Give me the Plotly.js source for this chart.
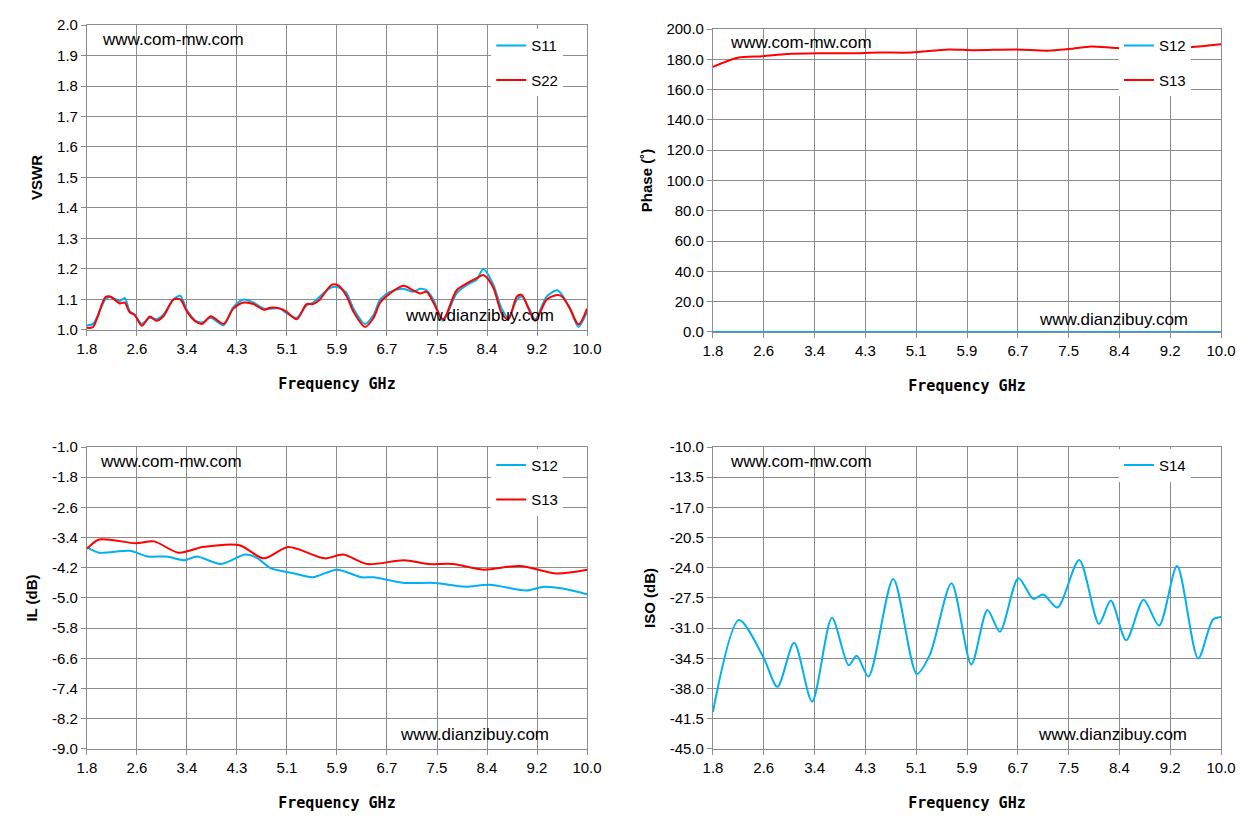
<!DOCTYPE html>
<html><head><meta charset="utf-8">
<script src="https://cdn.plot.ly/plotly-3.0.1.min.js"></script>
<style>body{margin:0;background:#fff}#container{width:1253px;height:839px}</style>
</head><body><div id="container"></div>
<script>
// frequency ticks (evenly spaced labels as in the source chart)
var tickLabels = ['1.8','2.6','3.4','4.3','5.1','5.9','6.7','7.5','8.4','9.2','10.0'];
var tickPos = [1.8, 2.62, 3.44, 4.26, 5.08, 5.9, 6.72, 7.54, 8.36, 9.18, 10.0];
var ilTicks = [-9.0,-8.2,-7.4,-6.6,-5.8,-5.0,-4.2,-3.4,-2.6,-1.8,-1.0];
var isoTicks = [-45.0,-41.5,-38.0,-34.5,-31.0,-27.5,-24.0,-20.5,-17.0,-13.5,-10.0];

// VSWR
var vswrFreq = [1.8,1.9,2.1,2.18,2.34,2.42,2.5,2.58,2.7,2.83,2.94,3.05,3.22,3.33,3.44,3.58,3.69,3.83,4.04,4.2,4.37,4.53,4.7,4.81,4.97,5.07,5.24,5.4,5.51,5.62,5.81,5.92,6.06,6.17,6.36,6.5,6.61,6.77,6.99,7.15,7.26,7.37,7.48,7.64,7.86,8.05,8.19,8.3,8.46,8.6,8.71,8.85,8.93,9.04,9.15,9.34,9.51,9.59,9.72,9.86,10.0];
var s11 = [1.015,1.02,1.10,1.108,1.095,1.105,1.062,1.05,1.02,1.04,1.035,1.05,1.10,1.112,1.065,1.03,1.025,1.04,1.015,1.075,1.10,1.09,1.07,1.07,1.07,1.055,1.04,1.08,1.09,1.11,1.14,1.14,1.12,1.07,1.02,1.05,1.10,1.125,1.135,1.125,1.135,1.13,1.10,1.03,1.12,1.15,1.165,1.20,1.15,1.07,1.04,1.10,1.11,1.075,1.035,1.11,1.13,1.115,1.07,1.01,1.06];
var s22 = [1.007,1.01,1.107,1.11,1.087,1.09,1.058,1.05,1.014,1.044,1.03,1.044,1.10,1.10,1.06,1.028,1.02,1.045,1.02,1.07,1.09,1.085,1.066,1.073,1.07,1.06,1.035,1.085,1.085,1.10,1.148,1.146,1.11,1.06,1.01,1.04,1.09,1.12,1.145,1.13,1.12,1.125,1.09,1.035,1.13,1.155,1.17,1.18,1.14,1.055,1.035,1.11,1.115,1.07,1.03,1.10,1.115,1.11,1.07,1.018,1.07];

// Phase
var phFreq = [1.8,2.2,2.6,3.0,3.5,4.0,4.5,5.0,5.6,6.0,6.7,7.2,7.6,7.9,8.3,8.8,9.5,10.0];
var phS12 = [0,0,0,0,0,0,0,0,0,0,0,0,0,0,0,0,0,0];
var phS13 = [175,181,182,183.5,184,184,184.5,184.5,186.5,186,186.5,185.7,187,188.5,187.5,187,188,190];

// Insertion loss
var ilFreq12 = [1.8,2.0,2.5,2.8,3.1,3.4,3.6,4.0,4.4,4.6,4.8,5.2,5.5,5.9,6.3,6.5,7.0,7.5,8.0,8.4,9.0,9.3,9.6,10.0];
var ilS12 = [-3.65,-3.8,-3.75,-3.9,-3.9,-4.0,-3.9,-4.1,-3.85,-3.95,-4.2,-4.35,-4.45,-4.25,-4.45,-4.45,-4.6,-4.6,-4.7,-4.65,-4.8,-4.7,-4.75,-4.9];
var ilFreq13 = [1.8,2.0,2.6,2.9,3.3,3.7,4.3,4.7,5.1,5.7,6.0,6.4,7.0,7.4,7.8,8.3,8.9,9.5,10.0];
var ilS13 = [-3.7,-3.45,-3.55,-3.5,-3.8,-3.65,-3.6,-3.95,-3.65,-3.95,-3.85,-4.1,-4.0,-4.1,-4.1,-4.25,-4.15,-4.35,-4.25];

// Isolation
var isoFreq = [1.8,2.22,2.61,2.84,3.11,3.4,3.72,3.99,4.12,4.31,4.71,5.09,5.3,5.65,5.97,6.23,6.43,6.73,6.97,7.13,7.36,7.71,8.03,8.22,8.47,8.75,9.0,9.29,9.63,9.87,10.0];
var isoS14 = [-40.7,-30.05,-34.3,-37.8,-32.7,-39.5,-29.8,-35.3,-34.2,-36.6,-25.3,-36.3,-34.1,-25.8,-35.2,-28.9,-31.4,-25.2,-27.6,-27.1,-28.6,-23.1,-30.5,-27.8,-32.4,-27.7,-30.7,-23.8,-34.5,-30.0,-29.7];

var BLUE = '#00b0f0', RED = '#ff0000';
var tf = {family: 'Liberation Sans, Arial', size: 15, color: '#000'};

function line(x, y, name, color, xa, ya, leg) {
  return {x: x, y: y, name: name, mode: 'lines', type: 'scatter', xaxis: xa, yaxis: ya,
    legend: leg, legendgroup: name + leg, line: {color: color, width: 2, shape: 'spline', smoothing: 0.8}};
}

var data = [
  line(vswrFreq, s11, 'S11', BLUE, 'x', 'y', 'legend'),
  line(vswrFreq, s22, 'S22', RED, 'x', 'y', 'legend'),
  line(phFreq, phS12, 'S12', BLUE, 'x2', 'y2', 'legend2'),
  line(phFreq, phS13, 'S13', RED, 'x2', 'y2', 'legend2'),
  line(ilFreq12, ilS12, 'S12', BLUE, 'x3', 'y3', 'legend3'),
  line(ilFreq13, ilS13, 'S13', RED, 'x3', 'y3', 'legend3'),
  line(isoFreq, isoS14, 'S14', BLUE, 'x4', 'y4', 'legend4')
];

function xax(dom, anchor) {
  return {domain: dom, anchor: anchor, range: [1.8, 10], tickvals: tickPos, ticktext: tickLabels,
    showgrid: true, gridcolor: '#8c8c8c', gridwidth: 1, zeroline: false, tickfont: tf,
    showline: true, linecolor: '#8c8c8c', ticks: 'outside', ticklen: 5, tickcolor: '#8c8c8c', mirror: true,
    title: {text: 'Frequency GHz', font: {family: 'DejaVu Sans Mono, Courier New', size: 15, color: '#000', weight: 'bold'}, standoff: 22}};
}
function yax(dom, anchor, r, dt, t, vals) {
  var a = {domain: dom, anchor: anchor, range: r, dtick: dt, tick0: r[0], tickformat: '.1f',
    showgrid: true, gridcolor: '#8c8c8c', zeroline: false, tickfont: tf,
    showline: true, linecolor: '#8c8c8c', ticks: 'outside', ticklen: 5, tickcolor: '#8c8c8c', mirror: true,
    title: {text: t, font: {family: 'Liberation Sans, Arial', size: 15, color: '#000', weight: 'bold'}, standoff: 10}};
  if (vals) {
    a.tickvals = vals;
    a.ticktext = vals.map(function(v) { return v.toFixed(1); });
  }
  return a;
}
function leg(x, y) {
  return {x: x, y: y, xanchor: 'left', yanchor: 'top', bgcolor: '#fff', borderwidth: 0,
    font: {family: 'Liberation Sans, Arial', size: 15, color: '#000'}, traceorder: 'grouped', tracegroupgap: 12};
}
function note(text, x, y) {
  return {text: text, x: x, y: y, xref: 'paper', yref: 'paper', xanchor: 'left', yanchor: 'middle',
    showarrow: false, font: {family: 'Liberation Sans, Arial', size: 17, color: '#000'}};
}

var yTop = [0.6067, 0.9702], yTopR = [0.6043, 0.9654], yBot = [0.1073, 0.4672];
var layout = {
  width: 1253, height: 839, margin: {l: 0, r: 0, t: 0, b: 0},
  paper_bgcolor: '#fff', plot_bgcolor: '#fff',
  xaxis: xax([0.0694, 0.4685], 'y'),
  yaxis: yax(yTop, 'x', [1.0, 2.0], 0.1, 'VSWR'),
  xaxis2: xax([0.569, 0.9745], 'y2'),
  yaxis2: yax(yTopR, 'x2', [0, 200], 20, 'Phase (˚)'),
  xaxis3: xax([0.0694, 0.4685], 'y3'),
  yaxis3: yax(yBot, 'x3', [-9, -1], 0.8, 'IL (dB)', ilTicks),
  xaxis4: xax([0.569, 0.9745], 'y4'),
  yaxis4: yax(yBot, 'x4', [-45, -10], 3.5, 'ISO (dB)', isoTicks),
  legend: leg(0.392, 0.965),
  legend2: leg(0.893, 0.965),
  legend3: leg(0.392, 0.465),
  legend4: leg(0.893, 0.465),
  annotations: [
    note('www.com-mw.com', 0.0798, 1 - 40/839),
    note('www.dianzibuy.com', 0.322, 1 - 316/839),
    note('www.com-mw.com', 0.581, 1 - 43/839),
    note('www.dianzibuy.com', 0.828, 1 - 319/839),
    note('www.com-mw.com', 0.0782, 1 - 461/839),
    note('www.dianzibuy.com', 0.318, 1 - 734/839),
    note('www.com-mw.com', 0.581, 1 - 461/839),
    note('www.dianzibuy.com', 0.827, 1 - 734/839)
  ]
};
Plotly.newPlot('container', data, layout, {displayModeBar: false, staticPlot: true});
</script></body></html>
